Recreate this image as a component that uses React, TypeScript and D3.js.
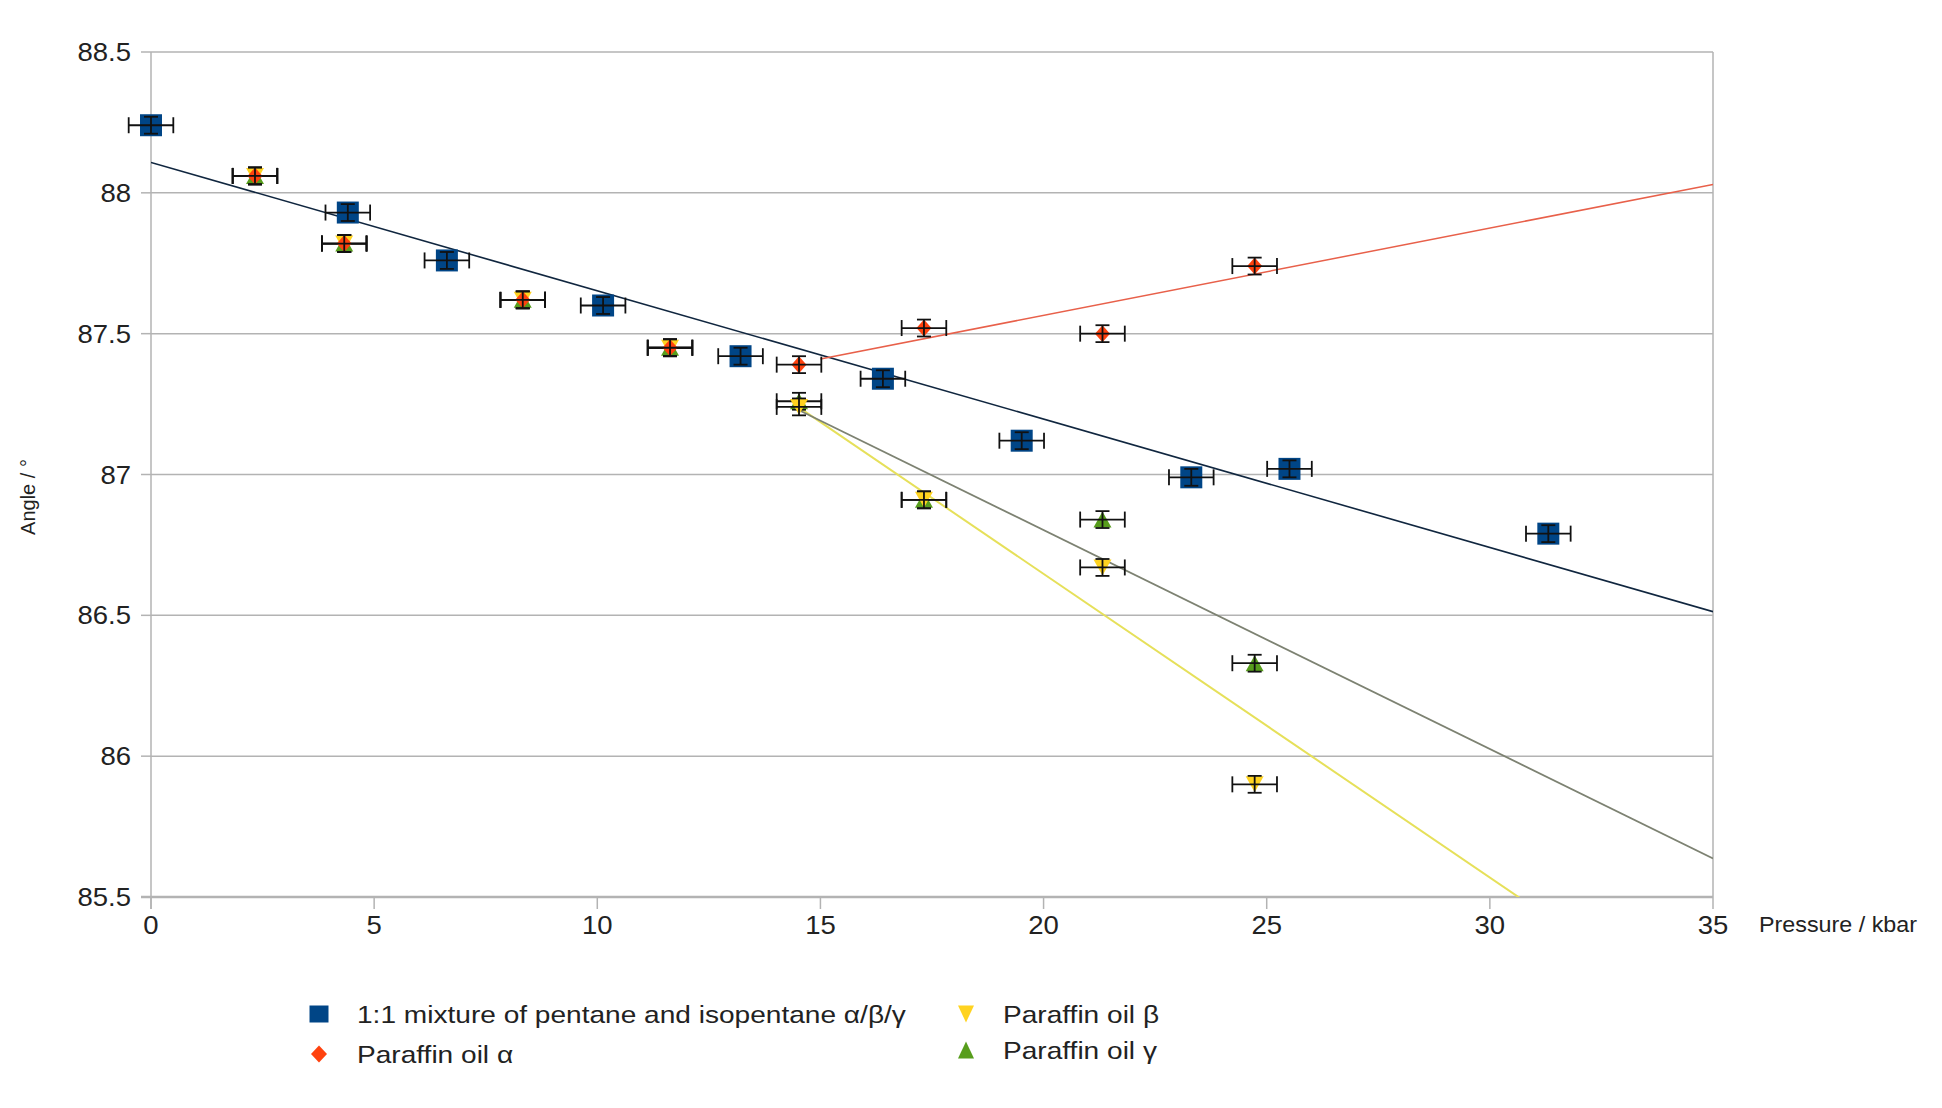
import React from 'react';
import * as d3 from 'd3';

// ---- data ----
const mixPressure = [0, 4.41, 6.63, 10.13, 13.21, 16.4, 19.51, 23.31, 25.51, 31.31];
const mixAngle = [88.24, 87.93, 87.76, 87.6, 87.42, 87.34, 87.12, 86.99, 87.02, 86.79];

const oilPressure = [2.33, 4.33, 8.33, 11.63, 14.52, 17.32, 21.32, 24.73];
const alphaAngle = [88.06, 87.82, 87.62, 87.45, 87.39, 87.52, 87.5, 87.74];
const betaAngle = [88.06, 87.82, 87.62, 87.45, 87.24, 86.91, 86.67, 85.9];
const gammaAngle = [88.06, 87.82, 87.62, 87.45, 87.26, 86.91, 86.84, 86.33];

const pressureErr = 0.5;
const angleErr = 0.03;

// trend lines: [pressure, angle] endpoints
const mixTrend = [[0, 88.108], [35, 86.513]];
const alphaTrend = [[15.0, 87.41], [35, 88.03]];
const betaTrend = [[14.5, 87.24], [35, 85.03]];
const gammaTrend = [[14.5, 87.23], [35, 85.637]];

const xTicks = [0, 5, 10, 15, 20, 25, 30, 35];
const yTicks = [85.5, 86, 86.5, 87, 87.5, 88, 88.5];

const seriesNames = [
  '1:1 mixture of pentane and isopentane α/β/γ',
  'Paraffin oil α',
  'Paraffin oil β',
  'Paraffin oil γ',
];
const colors = ['#004586', '#ff420e', '#ffd320', '#579d1c'];
const trendColors = ['#10263f', '#e8604a', '#e6e05a', '#7d8272'];

const W = 1942;
const H = 1108;
const FONT = '"Liberation Sans", Arial, sans-serif';

const x = d3.scaleLinear().domain([0, 35]).range([151, 1713]);
const y = d3.scaleLinear().domain([85.5, 88.5]).range([897, 52]);

type Shape = 'square' | 'diamond' | 'down' | 'up';

function markerPath(shape: Shape, cx: number, cy: number, w: number, h: number): string {
  const hw = w / 2;
  const hh = h / 2;
  switch (shape) {
    case 'square':
      return `M${cx - hw},${cy - hh}H${cx + hw}V${cy + hh}H${cx - hw}Z`;
    case 'diamond':
      return `M${cx},${cy - hh}L${cx + hw},${cy}L${cx},${cy + hh}L${cx - hw},${cy}Z`;
    case 'down':
      return `M${cx - hw},${cy - hh}L${cx + hw},${cy - hh}L${cx},${cy + hh}Z`;
    case 'up':
    default:
      return `M${cx - hw},${cy + hh}L${cx + hw},${cy + hh}L${cx},${cy - hh}Z`;
  }
}

function ErrorBars({ px, py }: { px: number[]; py: number[] }) {
  return (
    <g stroke="#111" strokeWidth={1.8} fill="none">
      {px.map((p, i) => {
        const x0 = x(p - pressureErr);
        const x1 = x(p + pressureErr);
        const yc = y(py[i]);
        const y0 = y(py[i] + angleErr);
        const y1 = y(py[i] - angleErr);
        const xc = x(p);
        return (
          <g key={i}>
            <line x1={x0} x2={x1} y1={yc} y2={yc} />
            <line x1={x0} x2={x0} y1={yc - 8} y2={yc + 8} />
            <line x1={x1} x2={x1} y1={yc - 8} y2={yc + 8} />
            <line x1={xc} x2={xc} y1={y0} y2={y1} />
            <line x1={xc - 7} x2={xc + 7} y1={y0} y2={y0} />
            <line x1={xc - 7} x2={xc + 7} y1={y1} y2={y1} />
          </g>
        );
      })}
    </g>
  );
}

function Markers({ px, py, shape, color, w, h }: { px: number[]; py: number[]; shape: Shape; color: string; w: number; h: number }) {
  return (
    <g fill={color}>
      {px.map((p, i) => (
        <path key={i} d={markerPath(shape, x(p), y(py[i]), w, h)} />
      ))}
    </g>
  );
}

function Trend({ pts, color, width }: { pts: number[][]; color: string; width: number }) {
  const line = d3.line<number[]>().x((d) => x(d[0])).y((d) => y(d[1]));
  return <path d={line(pts) || ''} stroke={color} strokeWidth={width} fill="none" clipPath="url(#plotClip)" />;
}

export default function App() {
  const [x0, x1] = x.range();
  const [yb, yt] = y.range();
  const legendItems: { shape: Shape; lx: number; ly: number; tx: number }[] = [
    { shape: 'square', lx: 319, ly: 1014, tx: 357 },
    { shape: 'diamond', lx: 319, ly: 1054, tx: 357 },
    { shape: 'down', lx: 966, ly: 1014, tx: 1003 },
    { shape: 'up', lx: 966, ly: 1050, tx: 1003 },
  ];
  return (
    <div style={{ position: 'absolute', left: 0, top: 0, width: W, height: H, background: '#fff' }}>
      <svg width={W} height={H} style={{ display: 'block' }}>
        <defs>
          <clipPath id="plotClip">
            <rect x={x0} y={yt} width={x1 - x0} height={yb - yt} />
          </clipPath>
        </defs>
        <rect width={W} height={H} fill="#fff" />
        {/* grid */}
        <g stroke="#b3b3b3" strokeWidth={1.5}>
          {yTicks.map((t) => (
            <line key={t} x1={x0} x2={x1} y1={y(t)} y2={y(t)} />
          ))}
          <line x1={x1} x2={x1} y1={yt} y2={yb} />
        </g>
        {/* axes */}
        <g stroke="#b3b3b3">
          <line x1={x0} x2={x0} y1={yt} y2={yb + 12} strokeWidth={1.5} />
          <line x1={x0 - 10} x2={x1} y1={yb} y2={yb} strokeWidth={2.5} />
          {yTicks.map((t) => (
            <line key={t} x1={x0 - 10} x2={x0} y1={y(t)} y2={y(t)} strokeWidth={1.5} />
          ))}
          {xTicks.map((t) => (
            <line key={t} x1={x(t)} x2={x(t)} y1={yb} y2={yb + 12} strokeWidth={1.5} />
          ))}
        </g>
        <g fontFamily={FONT} fontSize={25} fill="#222">
          {yTicks.map((t) => (
            <text key={t} transform={`translate(${x0 - 20},${y(t) + 9}) scale(1.1,1)`} textAnchor="end">
              {d3.format('')(t)}
            </text>
          ))}
          {xTicks.map((t) => (
            <text key={t} transform={`translate(${x(t)},${yb + 37}) scale(1.1,1)`} textAnchor="middle">
              {t}
            </text>
          ))}
        </g>
        <text fontFamily={FONT} fontSize={22} fill="#222" transform={`translate(1759,${yb + 35}) scale(1.06,1)`}>
          Pressure / kbar
        </text>
        <text fontFamily={FONT} fontSize={20} fill="#222" textAnchor="middle" transform={`translate(35,497) rotate(-90)`}>
          Angle / °
        </text>

        {/* trend lines */}
        <Trend pts={mixTrend} color={trendColors[0]} width={1.6} />
        <Trend pts={alphaTrend} color={trendColors[1]} width={1.5} />
        <Trend pts={betaTrend} color={trendColors[2]} width={2} />
        <Trend pts={gammaTrend} color={trendColors[3]} width={1.8} />

        {/* series (oil series drawn γ, β, α so the overlapping points look as in the reference) */}
        <Markers px={mixPressure} py={mixAngle} shape="square" color={colors[0]} w={22} h={22} />
        <ErrorBars px={mixPressure} py={mixAngle} />
        <Markers px={oilPressure} py={gammaAngle} shape="up" color={colors[3]} w={18} h={16} />
        <ErrorBars px={oilPressure} py={gammaAngle} />
        <Markers px={oilPressure} py={betaAngle} shape="down" color={colors[2]} w={18} h={16} />
        <ErrorBars px={oilPressure} py={betaAngle} />
        <Markers px={oilPressure} py={alphaAngle} shape="diamond" color={colors[1]} w={15} h={17} />
        <ErrorBars px={oilPressure} py={alphaAngle} />

        {/* legend */}
        <g fontFamily={FONT} fontSize={24} fill="#222">
          {legendItems.map((it, i) => (
            <g key={i}>
              <path d={markerPath(it.shape, it.lx, it.ly, it.shape === 'square' ? 19 : 16, 17)} fill={colors[i]} />
              <text transform={`translate(${it.tx},${it.ly + 9}) scale(1.17,1)`}>{seriesNames[i]}</text>
            </g>
          ))}
        </g>
      </svg>
    </div>
  );
}
